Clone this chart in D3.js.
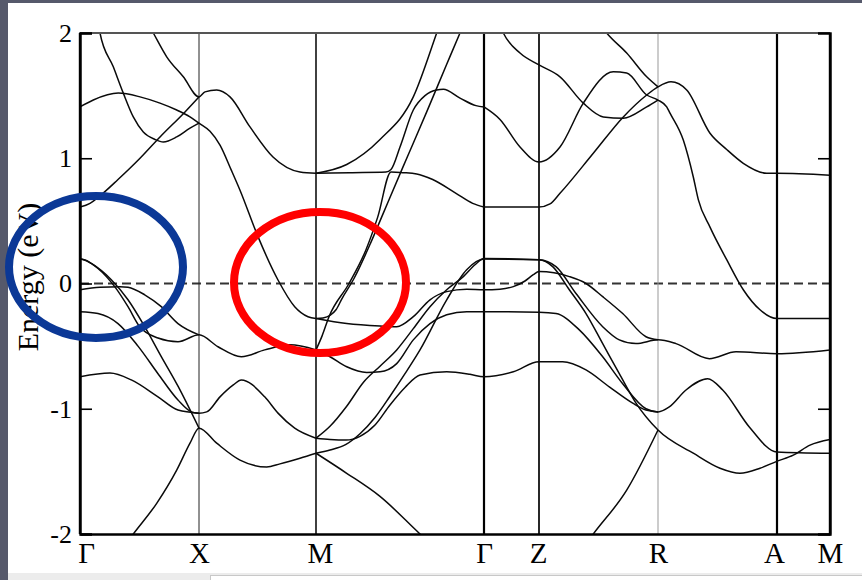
<!DOCTYPE html>
<html>
<head>
<meta charset="utf-8">
<script src="https://cdn.jsdelivr.net/npm/d3@7"></script>
<style>
  html, body { margin: 0; padding: 0; background: #fff; }
  svg { display: block; }
</style>
</head>
<body>
<svg id="chart" width="862" height="580"></svg>
<script>
// High-symmetry points along the k-path (path length units) and their labels
const kLabels = ["Γ", "X", "M", "Γ", "Z", "R", "A", "M"];
const kPoints = [0, 1.19, 2.36, 4.04, 4.59, 5.78, 6.97, 7.50];
const energyTicks = [-2, -1, 0, 1, 2];
const rightTicks = [-1, 1];

// Bands: [k, E (eV)] samples
const bandA  = [[0.17,2.15],[0.20,2.0],[0.333,1.73],[0.433,1.52],[0.533,1.33],[0.633,1.21],[0.75,1.15],[0.833,1.13],[0.967,1.17],[1.10,1.24],[1.19,1.28]];
const bandB  = [[0.65,2.12],[0.733,2.0],[0.867,1.81],[1.033,1.65],[1.19,1.49],[1.25,1.53],[1.367,1.545],[1.50,1.49],[1.70,1.25],[1.93,1.01],[2.20,0.89],[2.36,0.88]];
const bandC  = [[0,1.41],[0.133,1.465],[0.383,1.52],[0.60,1.49],[0.80,1.44],[0.967,1.385],[1.10,1.33],[1.19,1.28],[1.30,1.215],[1.40,1.105],[1.513,0.905],[1.60,0.745],[1.78,0.374],[1.98,0.028],[2.147,-0.185],[2.28,-0.265],[2.36,-0.28]];
const bandL  = [[0,0.61],[0.10,0.64],[0.20,0.70],[0.38,0.83],[0.60,1.0],[0.80,1.17],[1.05,1.37],[1.19,1.49]];
const bandP  = [[0,0.195],[0.047,0.188],[0.18,0.12],[0.347,-0.025],[0.48,-0.185],[0.597,-0.345],[0.78,-0.435],[0.98,-0.465],[1.19,-0.41],[1.38,-0.505],[1.613,-0.585],[1.847,-0.53],[2.10,-0.49],[2.36,-0.53]];
const bandQ  = [[0,0.195],[0.04,0.19],[0.113,0.16],[0.313,0.03],[0.48,-0.13],[0.647,-0.345],[0.81,-0.58],[0.98,-0.82],[1.19,-1.155]];
const bandR  = [[0,-0.05],[0.20,-0.03],[0.40,-0.025],[0.48,-0.03],[0.647,-0.09],[0.813,-0.185],[0.98,-0.32],[1.19,-0.41]];
const bandS  = [[0,-0.225],[0.18,-0.24],[0.38,-0.32],[0.58,-0.50],[0.78,-0.72],[0.98,-0.93],[1.13,-1.03],[1.19,-1.035],[1.267,-1.025],[1.40,-0.905],[1.533,-0.81],[1.613,-0.77],[1.847,-0.905],[1.98,-1.035],[2.147,-1.155],[2.36,-1.235]];
const bandT  = [[0,-0.745],[0.30,-0.715],[0.513,-0.77],[0.78,-0.905],[0.98,-1.01],[1.19,-1.035]];
const bandU  = [[0.45,-2.09],[0.533,-2.0],[0.767,-1.755],[0.967,-1.49],[1.10,-1.275],[1.19,-1.155],[1.367,-1.275],[1.60,-1.41],[1.867,-1.465],[2.0,-1.44],[2.20,-1.395],[2.36,-1.355]];

const bandE1 = [[2.36,0.88],[2.667,0.95],[3.0,1.15],[3.333,1.49],[3.567,2.0],[3.62,2.12]];
const bandE2 = [[2.36,0.88],[2.70,0.885],[3.06,0.89],[3.11,0.91],[3.20,1.09],[3.333,1.385],[3.45,1.50],[3.567,1.545],[3.633,1.55],[3.80,1.48],[3.96,1.42],[4.04,1.41]];
const bandE3 = [[2.36,-0.53],[2.42,-0.42],[2.49,-0.265],[2.69,0.0],[2.86,0.27],[2.977,0.53],[3.11,0.89],[3.227,0.885],[3.367,0.875],[3.527,0.83],[3.76,0.72],[3.927,0.64],[4.04,0.61]];
const bandE4 = [[2.36,-0.28],[2.43,-0.275],[2.50,-0.255],[2.56,-0.21],[2.62,-0.12],[2.74,0.04],[2.91,0.33],[3.027,0.55],[3.227,0.925],[3.327,1.11],[3.467,1.37],[3.667,1.75],[3.80,2.0],[3.86,2.11]];
const bandRm = [[2.36,-0.28],[2.667,-0.32],[3.0,-0.34],[3.167,-0.345],[3.333,-0.265],[3.50,-0.13],[3.667,-0.065],[3.867,-0.045],[4.04,-0.05],[4.20,-0.045],[4.333,-0.025],[4.45,0.02],[4.533,0.07],[4.59,0.095],[4.893,0.055],[5.06,0.0],[5.227,-0.105],[5.427,-0.24],[5.66,-0.425],[5.78,-0.45]];
const bandSm = [[2.36,-0.53],[2.50,-0.585],[2.667,-0.665],[2.867,-0.71],[3.0,-0.705],[3.167,-0.64],[3.333,-0.45],[3.50,-0.32],[3.667,-0.25],[3.867,-0.225],[4.04,-0.225],[4.59,-0.23],[4.76,-0.24],[4.993,-0.37],[5.227,-0.585],[5.427,-0.8],[5.66,-1.0],[5.78,-1.025],[5.893,-0.985],[6.06,-0.85],[6.277,-0.76],[6.427,-0.85],[6.693,-1.145],[6.967,-1.345],[7.50,-1.355]];
const bandD1 = [[2.36,-1.235],[2.50,-1.245],[2.66,-1.25],[2.80,-1.22],[2.95,-1.13],[3.10,-0.97],[3.25,-0.83],[3.40,-0.73],[3.667,-0.705],[3.90,-0.725],[4.04,-0.745],[4.333,-0.705],[4.59,-0.625],[4.827,-0.625],[5.06,-0.69],[5.293,-0.825],[5.527,-0.955],[5.66,-1.01],[5.78,-1.025]];
const bandD2 = [[2.36,-1.355],[2.50,-1.33],[2.66,-1.285],[2.80,-1.2],[2.95,-1.07],[3.10,-0.90],[3.25,-0.72],[3.40,-0.53],[3.667,-0.13],[3.867,0.11],[4.04,0.195],[4.59,0.19],[4.727,0.135],[4.893,-0.05],[5.06,-0.24],[5.227,-0.48],[5.393,-0.72],[5.56,-0.955],[5.78,-1.17],[6.133,-1.355],[6.40,-1.475],[6.60,-1.515],[6.80,-1.475],[6.967,-1.42],[7.133,-1.37],[7.30,-1.29],[7.50,-1.245]];
const bandC2 = [[2.36,-1.235],[2.50,-1.14],[2.667,-0.98],[2.833,-0.79],[3.0,-0.66],[3.167,-0.53],[3.333,-0.36],[3.50,-0.185],[3.667,-0.05],[3.833,0.055],[3.95,0.15],[4.04,0.2],[4.59,0.19],[4.76,0.135],[4.96,-0.08],[5.227,-0.345],[5.393,-0.45],[5.56,-0.48],[5.78,-0.45],[5.96,-0.48],[6.293,-0.6],[6.56,-0.545],[6.97,-0.56],[7.50,-0.53]];
const bandC1 = [[2.36,-1.355],[2.667,-1.515],[3.0,-1.7],[3.40,-2.0],[3.55,-2.11]];

const bandG  = [[4.04,1.41],[4.20,1.31],[4.40,1.09],[4.59,0.97],[4.80,1.09],[5.033,1.44],[5.333,1.69],[5.467,1.68],[5.667,1.505],[5.78,1.465],[5.867,1.41],[5.90,1.36],[6.033,1.145],[6.133,0.85],[6.183,0.67],[6.30,0.45],[6.467,0.19],[6.633,-0.05],[6.80,-0.21],[6.97,-0.28],[7.50,-0.28]];
const bandZt = [[4.17,2.12],[4.233,2.0],[4.40,1.84],[4.59,1.745],[4.80,1.65],[5.033,1.44],[5.233,1.33],[5.433,1.32],[5.667,1.41],[5.78,1.465]];
const bandLz = [[4.04,0.61],[4.59,0.61],[4.70,0.635],[4.80,0.72],[5.133,1.04],[5.433,1.33],[5.667,1.505],[5.78,1.57],[5.91,1.61],[6.067,1.545],[6.30,1.2],[6.467,1.07],[6.633,0.96],[6.867,0.88],[6.97,0.88],[7.50,0.865]];
const bandTr = [[5.20,2.07],[5.267,2.0],[5.467,1.84],[5.667,1.65],[5.78,1.57]];
const bandUr = [[5.05,-2.09],[5.133,-2.0],[5.467,-1.65],[5.78,-1.17]];

const bands = [bandA, bandB, bandC, bandL, bandP, bandQ, bandR, bandS, bandT, bandU,
  bandE1, bandE2, bandE3, bandE4, bandRm, bandSm, bandD1, bandD2, bandC2, bandC1,
  bandG, bandZt, bandLz, bandTr, bandUr];

// Line styles of the high-symmetry verticals
const vlineWidth = [2.4, 1.0, 1.6, 2.2, 1.8, 1.0, 2.2, 2.4];
const vlineColor = ["#000", "#222", "#111", "#000", "#111", "#999", "#000", "#000"];

const W = 862, H = 580;
const margin = { left: 80, right: 32, top: 33, bottom: 46 };
const svg = d3.select("#chart");

// page frame
svg.append("rect").attr("width", W).attr("height", H).attr("fill", "#56596b");
svg.append("rect").attr("x", 8).attr("y", 3).attr("width", W - 8).attr("height", 570).attr("fill", "#fff");
svg.append("rect").attr("x", 8).attr("y", 573).attr("width", W - 8).attr("height", 7).attr("fill", "#ececec");
svg.append("rect").attr("x", 210.5).attr("y", 575.5).attr("width", W - 210).attr("height", 6).attr("fill", "#fff").attr("stroke", "#c8c8c8");

const x = d3.scaleLinear().domain([kPoints[0], kPoints[kPoints.length - 1]]).range([margin.left, W - margin.right]);
const y = d3.scaleLinear().domain([-2, 2]).range([H - margin.bottom, margin.top]);

svg.append("clipPath").attr("id", "plot-clip")
  .append("rect").attr("x", x.range()[0]).attr("y", y.range()[1])
  .attr("width", x.range()[1] - x.range()[0]).attr("height", y.range()[0] - y.range()[1]);

const serif = "'Liberation Serif', 'Times New Roman', serif";

// Fermi level
svg.append("line")
  .attr("x1", x.range()[0]).attr("x2", x.range()[1])
  .attr("y1", y(0)).attr("y2", y(0))
  .attr("stroke", "#333").attr("stroke-width", 2).attr("stroke-dasharray", "9,5");

// high-symmetry verticals
svg.append("g").selectAll("line").data(kPoints).join("line")
  .attr("x1", d => x(d)).attr("x2", d => x(d))
  .attr("y1", y.range()[1]).attr("y2", y.range()[0])
  .attr("stroke", (d, i) => vlineColor[i])
  .attr("stroke-width", (d, i) => vlineWidth[i]);

// bands
const line = d3.line().x(d => x(d[0])).y(d => y(d[1])).curve(d3.curveMonotoneX);
svg.append("g").attr("clip-path", "url(#plot-clip)")
  .selectAll("path").data(bands).join("path")
  .attr("d", line).attr("fill", "none")
  .attr("stroke", "#0a0a0a").attr("stroke-width", 1.5);

// top frame line
svg.append("line").attr("x1", x.range()[0]).attr("x2", x.range()[1])
  .attr("y1", y(2)).attr("y2", y(2)).attr("stroke", "#555").attr("stroke-width", 2);

// left axis
const yAxis = svg.append("g").attr("transform", `translate(${x.range()[0]},0)`)
  .call(d3.axisLeft(y).tickValues(energyTicks).tickSize(-12).tickPadding(8).tickFormat(d => String(d)));
yAxis.select(".domain").attr("stroke", "#000").attr("stroke-width", 2.4);
yAxis.selectAll(".tick line").attr("stroke", "#000").attr("stroke-width", 1.6);
yAxis.selectAll(".tick text").attr("font-family", serif).attr("font-size", 26).attr("fill", "#000");

// right axis ticks
const yAxisR = svg.append("g").attr("transform", `translate(${x.range()[1]},0)`)
  .call(d3.axisRight(y).tickValues(rightTicks).tickSize(-12).tickFormat(""));
yAxisR.select(".domain").attr("stroke", "#000").attr("stroke-width", 2.4);
yAxisR.selectAll(".tick line").attr("stroke", "#000").attr("stroke-width", 1.6);

// bottom axis with k-point labels
const labelShift = [6, 0, 4, 0, -1, 0, -3, 0];
const xAxis = svg.append("g").attr("transform", `translate(0,${y.range()[0]})`)
  .call(d3.axisBottom(x).tickValues(kPoints).tickSize(0).tickPadding(8).tickFormat((d, i) => kLabels[i]));
xAxis.select(".domain").attr("stroke", "#000").attr("stroke-width", 2.4);
xAxis.selectAll(".tick text").attr("font-family", serif).attr("font-size", 29).attr("fill", "#000")
  .attr("dx", (d, i) => labelShift[i]);

// y-axis title
svg.append("text")
  .attr("transform", `translate(38,277) rotate(-90)`)
  .attr("text-anchor", "middle")
  .attr("font-family", serif).attr("font-size", 30).attr("fill", "#000")
  .text("Energy (eV)");

// highlight rings
svg.append("ellipse").attr("cx", 96).attr("cy", 267).attr("rx", 87).attr("ry", 71)
  .attr("fill", "none").attr("stroke", "#0b3896").attr("stroke-width", 8);
svg.append("ellipse").attr("cx", 320).attr("cy", 282.5).attr("rx", 86).attr("ry", 70.5)
  .attr("fill", "none").attr("stroke", "#ff0000").attr("stroke-width", 8);
</script>
</body>
</html>
